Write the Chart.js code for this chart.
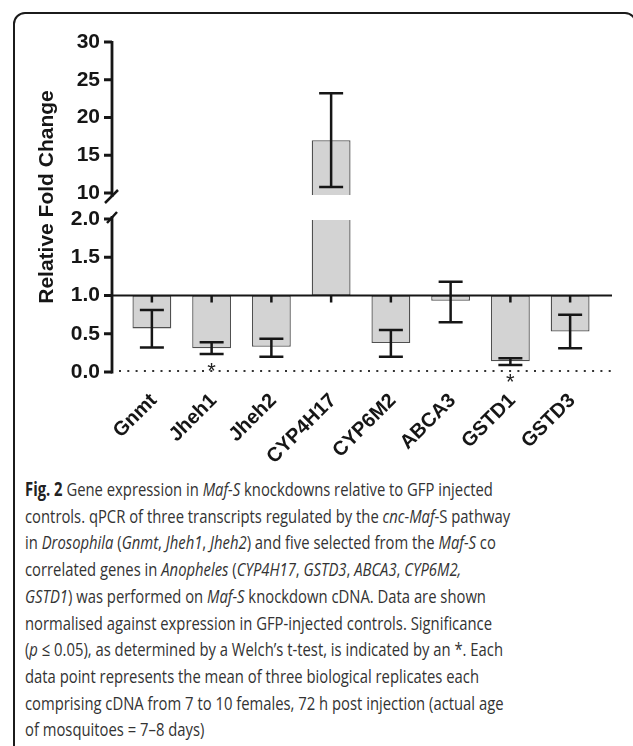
<!DOCTYPE html>
<html>
<head>
<meta charset="utf-8">
<script src="https://cdn.jsdelivr.net/npm/chart.js@4.4.1/dist/chart.umd.min.js"></script>
<style>
html, body { margin: 0; padding: 0; width: 633px; height: 746px; overflow: hidden; background: #fff; }
#frame { position: absolute; left: 13px; top: 12px; width: 624px; height: 800px; border: 2.5px solid #1b1b1b; border-radius: 12px; box-sizing: border-box; }
#chartBox { position: absolute; left: 0; top: 0; }
#caption { position: absolute; left: 25px; top: 476px; display: inline-block; font-family: "Open Sans", sans-serif; font-size: 19px; line-height: 26.7px; color: #333; white-space: nowrap; transform-origin: 0 0; }
#caption b { color: #222; }
</style>
</head>
<body>
<div id="frame"></div>
<div id="chartBox"><canvas id="chart" width="633" height="470"></canvas></div>
<div id="caption">
<div><b>Fig. 2</b> Gene expression in <i>Maf-S</i> knockdowns relative to GFP injected</div>
<div>controls. qPCR of three transcripts regulated by the <i>cnc-Maf</i>-S pathway</div>
<div>in <i>Drosophila</i> (<i>Gnmt</i>, <i>Jheh1</i>, <i>Jheh2</i>) and five selected from the <i>Maf-S</i> co</div>
<div>correlated genes in <i>Anopheles</i> (<i>CYP4H17</i>, <i>GSTD3</i>, <i>ABCA3</i>, <i>CYP6M2,</i></div>
<div><i>GSTD1</i>) was performed on <i>Maf-S</i> knockdown cDNA. Data are shown</div>
<div>normalised against expression in GFP-injected controls. Significance</div>
<div>(<i>p</i> ≤ 0.05), as determined by a Welch’s t-test, is indicated by an *. Each</div>
<div>data point represents the mean of three biological replicates each</div>
<div>comprising cDNA from 7 to 10 females, 72 h post injection (actual age</div>
<div>of mosquitoes = 7–8 days)</div>
</div>
<script>
// data
const genes = ['Gnmt', 'Jheh1', 'Jheh2', 'CYP4H17', 'CYP6M2', 'ABCA3', 'GSTD1', 'GSTD3'];
const foldChange = [0.57, 0.31, 0.33, 17.0, 0.38, 0.93, 0.14, 0.53];
const errLow = [0.32, 0.235, 0.20, 10.8, 0.20, 0.65, 0.09, 0.31];
const errHigh = [0.81, 0.39, 0.435, 23.2, 0.55, 1.18, 0.18, 0.75];
const significant = [false, true, false, false, false, false, true, false];
const baseline = 1.0;
const yTicks = [0, 0.5, 1, 1.5, 2, 10, 15, 20, 25, 30];
const yTitle = 'Relative Fold Change';

// broken y axis: 0-2 in the lower part, 10-30 in the upper part
const lowMax = 2, highMin = 10, highMax = 30;
const lowFrac = 0.4636, highFrac = 0.5424;

function toDecimal(v) {
    if (v <= lowMax) return v / lowMax * lowFrac;
    if (v >= highMin) return highFrac + (v - highMin) / (highMax - highMin) * (1 - highFrac);
    return lowFrac + (v - lowMax) / (highMin - lowMax) * (highFrac - lowFrac);
}
function fromDecimal(d) {
    if (d <= lowFrac) return d / lowFrac * lowMax;
    if (d >= highFrac) return highMin + (d - highFrac) / (1 - highFrac) * (highMax - highMin);
    return lowMax + (d - lowFrac) / (highFrac - lowFrac) * (highMin - lowMax);
}

class BrokenScale extends Chart.LinearScale {
    getPixelForValue(v) { return this.getPixelForDecimal(toDecimal(v)); }
    getValueForPixel(p) { return fromDecimal(this.getDecimalForPixel(p)); }
}
BrokenScale.id = 'broken';
BrokenScale.defaults = {};
Chart.register(BrokenScale);

const ink = '#161616';
const tickFont = { family: 'Liberation Sans', size: 21, weight: 'bold' };
const labelFont = { family: 'Liberation Sans', size: 20, weight: 'bold' };

const extras = {
    id: 'extras',
    afterDatasetsDraw(chart) {
        const ctx = chart.ctx;
        const y = chart.scales.y;
        const area = chart.chartArea;
        const meta = chart.getDatasetMeta(0);
        const axisX = area.left - 10;
        const rightX = area.right + 12;
        const y2 = y.getPixelForValue(lowMax);
        const y10 = y.getPixelForValue(highMin);

        ctx.save();
        // gap of the broken axis
        ctx.fillStyle = '#fff';
        ctx.fillRect(axisX + 2, y10 + 2, rightX - axisX, y2 - y10 - 1);

        // dotted line at zero
        ctx.strokeStyle = '#333';
        ctx.lineWidth = 2;
        ctx.setLineDash([2, 6.3]);
        ctx.beginPath();
        ctx.moveTo(axisX + 7, y.getPixelForValue(0) - 1);
        ctx.lineTo(rightX, y.getPixelForValue(0) - 1);
        ctx.stroke();
        ctx.setLineDash([]);

        // baseline at 1.0
        const yb = y.getPixelForValue(baseline);
        ctx.strokeStyle = ink;
        ctx.lineWidth = 2;
        ctx.beginPath();
        ctx.moveTo(axisX, yb);
        ctx.lineTo(rightX, yb);
        ctx.stroke();

        // error bars
        ctx.lineWidth = 2.5;
        meta.data.forEach((bar, i) => {
            const x = bar.x;
            const top = y.getPixelForValue(errHigh[i]);
            const bot = y.getPixelForValue(errLow[i]);
            ctx.beginPath();
            ctx.moveTo(x, top); ctx.lineTo(x, bot);
            ctx.moveTo(x - 12, top); ctx.lineTo(x + 12, top);
            ctx.moveTo(x - 12, bot); ctx.lineTo(x + 12, bot);
            // short stub under the baseline
            ctx.moveTo(x, yb); ctx.lineTo(x, yb + 7);
            ctx.stroke();
            if (significant[i]) {
                ctx.fillStyle = '#222';
                ctx.font = '22px "Liberation Sans"';
                ctx.textAlign = 'center';
                ctx.textBaseline = 'alphabetic';
                ctx.fillText('*', x, bot + 24);
            }
        });

        // y axis with break marks
        ctx.lineWidth = 2.8;
        ctx.beginPath();
        ctx.moveTo(axisX, area.top - 1);
        ctx.lineTo(axisX, y10 + 4);
        ctx.moveTo(axisX, y2 - 3);
        ctx.lineTo(axisX, area.bottom + 1.4);
        ctx.stroke();
        ctx.lineWidth = 2.5;
        ctx.beginPath();
        ctx.moveTo(axisX - 7, y10 + 10); ctx.lineTo(axisX + 6, y10 - 3);
        ctx.moveTo(axisX - 5, y2 + 4); ctx.lineTo(axisX + 5, y2 - 7);
        ctx.stroke();
        ctx.lineWidth = 2.8;
        ctx.beginPath();
        yTicks.forEach(v => {
            const py = y.getPixelForValue(v);
            ctx.moveTo(axisX - 8, py);
            ctx.lineTo(axisX, py);
        });
        ctx.stroke();

        // axis title
        ctx.translate(47, 197);
        ctx.rotate(-Math.PI / 2);
        ctx.fillStyle = ink;
        ctx.font = 'bold 21px "Liberation Sans"';
        ctx.textAlign = 'center';
        ctx.textBaseline = 'middle';
        ctx.fillText(yTitle, 0, 0);
        ctx.restore();
    }
};

new Chart(document.getElementById('chart'), {
    type: 'bar',
    data: {
        labels: genes,
        datasets: [{
            data: foldChange.map(v => [baseline, v]),
            backgroundColor: '#d3d3d3',
            borderColor: '#505050',
            borderWidth: 1.3,
            borderSkipped: false,
            barPercentage: 0.65,
            categoryPercentage: 1
        }]
    },
    options: {
        responsive: false,
        animation: false,
        layout: { padding: { left: 0, top: 42, right: 33, bottom: 0 } },
        plugins: { legend: { display: false }, tooltip: { enabled: false } },
        scales: {
            x: {
                type: 'category',
                offset: true,
                grid: { display: false, drawTicks: false },
                border: { display: false },
                ticks: { minRotation: 45, maxRotation: 45, padding: 17, labelOffset: 2, color: ink, font: labelFont },
                afterFit: s => { s.height = 470 - 372; }
            },
            y: {
                type: 'broken',
                min: 0,
                max: 30,
                afterBuildTicks: s => { s.ticks = yTicks.map(v => ({ value: v })); },
                afterFit: s => { s.width = 122; },
                grid: { display: false, drawTicks: false },
                border: { display: false },
                ticks: {
                    autoSkip: false,
                    padding: 22,
                    color: ink,
                    font: tickFont,
                    callback: v => v <= lowMax ? v.toFixed(1) : String(v)
                }
            }
        }
    },
    plugins: [extras]
});

// fit caption width to the figure
const cap = document.getElementById('caption');
cap.style.transform = 'scaleX(' + (485 / cap.offsetWidth) + ')';
</script>
</body>
</html>
